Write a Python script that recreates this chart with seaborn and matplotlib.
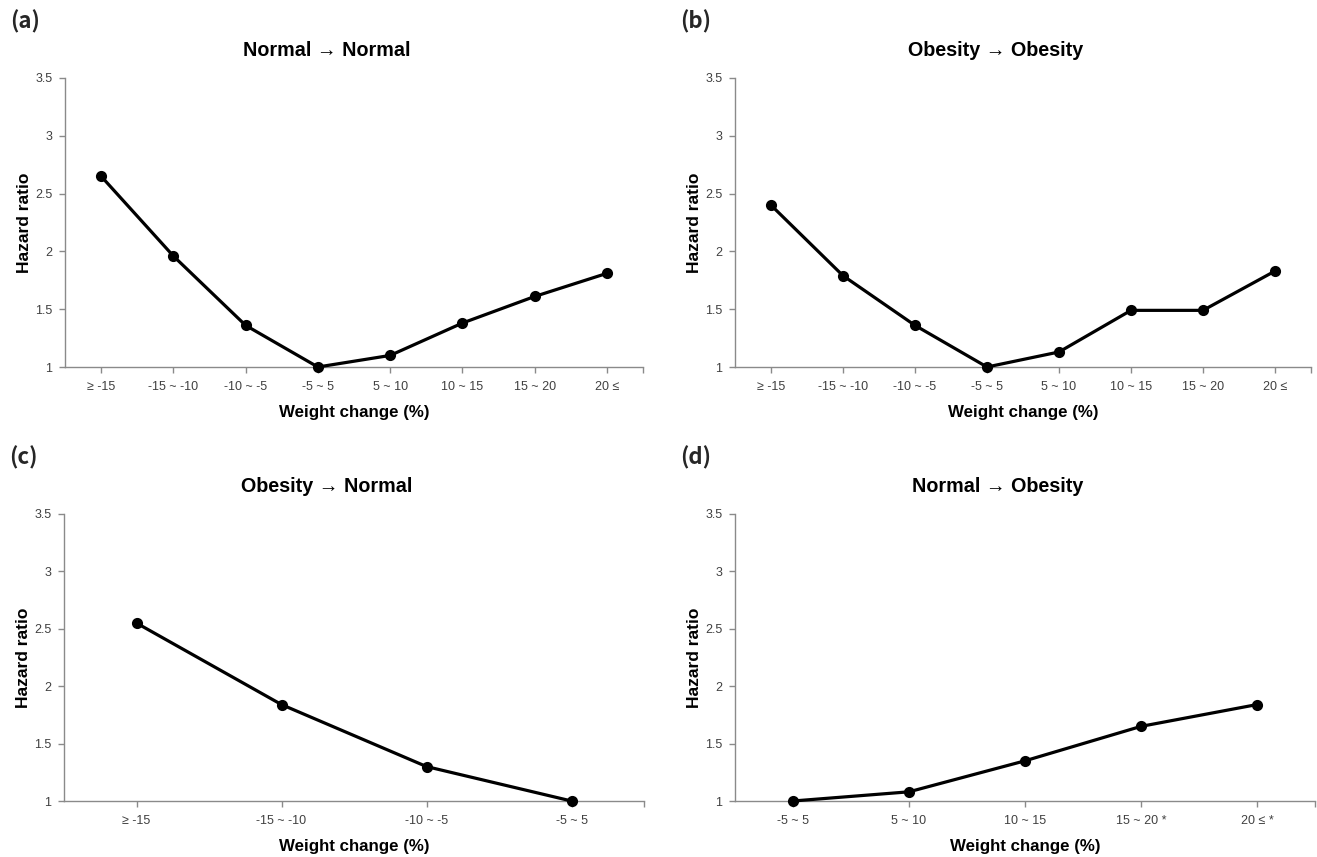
import matplotlib
matplotlib.use("Agg")
import matplotlib.pyplot as plt
import seaborn as sns
import pandas as pd

# ---- data ----
cats_full = ["≥ -15", "-15 ~ -10", "-10 ~ -5", "-5 ~ 5", "5 ~ 10", "10 ~ 15", "15 ~ 20", "20 ≤"]
hr_a = [2.65, 1.96, 1.36, 1.00, 1.10, 1.38, 1.61, 1.81]
hr_b = [2.40, 1.79, 1.36, 1.00, 1.13, 1.49, 1.49, 1.83]
cats_c = ["≥ -15", "-15 ~ -10", "-10 ~ -5", "-5 ~ 5"]
hr_c = [2.55, 1.84, 1.30, 1.00]
cats_d = ["-5 ~ 5", "5 ~ 10", "10 ~ 15", "15 ~ 20 *", "20 ≤ *"]
hr_d = [1.00, 1.08, 1.35, 1.65, 1.84]

titles = ["Normal → Normal", "Obesity → Obesity", "Obesity → Normal", "Normal → Obesity"]
panel_labels = ["(a)", "(b)", "(c)", "(d)"]
y_ticks = [1, 1.5, 2, 2.5, 3, 3.5]
y_ticklabels = ["1", "1.5", "2", "2.5", "3", "3.5"]

sns.set_theme(style="white")
plt.rcParams["font.family"] = ["Liberation Sans", "DejaVu Sans"]

W, H = 1317, 857
fig = plt.figure(figsize=(W / 100, H / 100), dpi=100)

# axes rectangles in pixels: left, top(y=3.5), right, bottom(y=1)
rects = [
    (65, 78, 643, 367),
    (735, 78, 1311, 367),
    (64, 514, 644, 801),
    (735, 514, 1315, 801),
]
datasets = [(cats_full, hr_a), (cats_full, hr_b), (cats_c, hr_c), (cats_d, hr_d)]

spine_col = "#8a8a8a"
tick_col = "#404040"

for i, ((l, t, r, b), (cats, vals)) in enumerate(zip(rects, datasets)):
    ax = fig.add_axes([l / W, 1 - b / H, (r - l) / W, (b - t) / H])
    df = pd.DataFrame({"cat": pd.Categorical(cats, categories=cats, ordered=True), "hr": vals})
    sns.pointplot(data=df, x="cat", y="hr", color="black", markers="o",
                  linestyles="-", errorbar=None, markersize=6.3, linewidth=2.3, ax=ax)
    for ln in ax.lines:
        ln.set_clip_on(False)
        ln.set_zorder(5)
    n = len(cats)
    ax.set_xlim(-0.5, n - 0.5)
    ax.set_ylim(1, 3.5)
    ax.set_yticks(y_ticks)
    ax.set_yticklabels(y_ticklabels)
    ax.set_xticks(range(n))
    ax.set_xticklabels(cats)
    ax.set_xticks([n - 0.5], minor=True)
    for s in ["top", "right"]:
        ax.spines[s].set_visible(False)
    for s in ["left", "bottom"]:
        ax.spines[s].set_color(spine_col)
        ax.spines[s].set_linewidth(1.0)
    ax.tick_params(axis="both", which="both", direction="out", length=4, width=1,
                   color=spine_col, labelcolor=tick_col, labelsize=9, bottom=True, left=True)
    ax.tick_params(axis="x", pad=6)
    ax.tick_params(axis="y", pad=5)
    ax.set_xlabel("Weight change (%)", fontsize=12.2, fontweight="bold", color="black", labelpad=9)
    ax.set_ylabel("Hazard ratio", fontsize=12.5, fontweight="bold", color="black", labelpad=2)
    off = 27 / (r - l)
    ax.set_title(titles[i], fontsize=14.2, fontweight="bold", color="black", pad=16, x=0.5 - off)
    ax.grid(False)
    # panel label
    fig.text((l - 55) / W, 1 - (t - 56) / H, panel_labels[i], fontsize=16, fontweight="bold",
             family=["Noto Sans CJK KR", "DejaVu Sans"], ha="left", va="center")

fig.savefig("out.png", dpi=100, facecolor="white")
